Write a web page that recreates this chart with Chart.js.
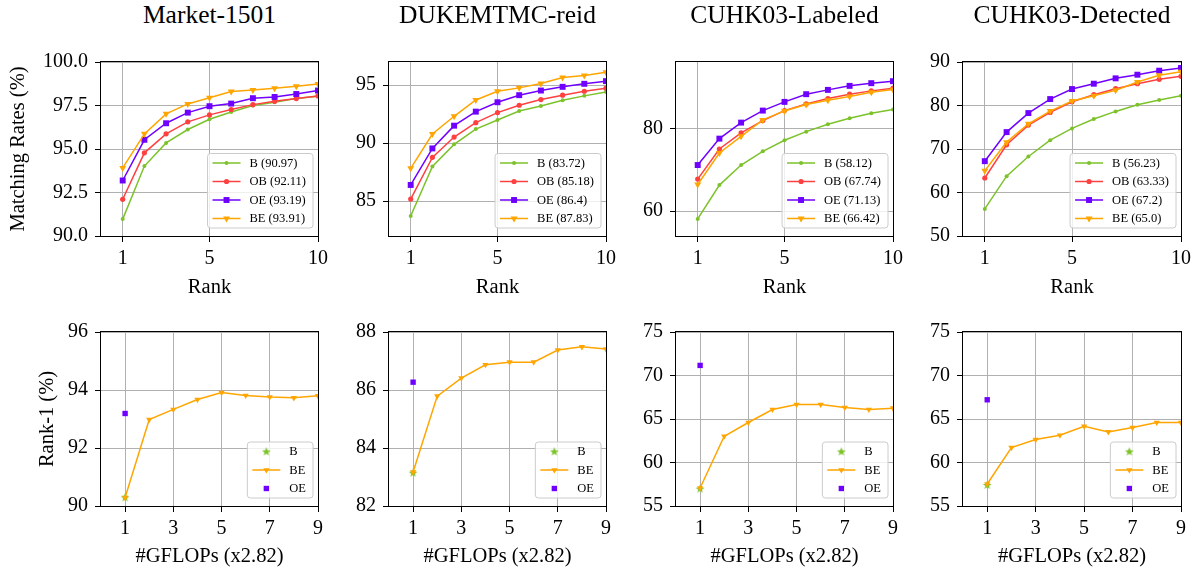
<!DOCTYPE html>
<html lang="en">
<head>
<meta charset="UTF-8">
<title>CMC and GFLOPs curves</title>
<script src="https://cdn.jsdelivr.net/npm/chart.js"></script>
<style>
  body { margin: 0; background: #fff; width: 1198px; height: 569px; overflow: hidden; position: relative; font-family: "Liberation Serif", serif; }
  canvas { position: absolute; }
  .title { position: absolute; top: 0; height: 29px; line-height: 29px; font-size: 25.5px; text-align: center; color: #000; white-space: nowrap; }
</style>
</head>
<body>
<script>
// ---- data ----
const ranks = [1, 2, 3, 4, 5, 6, 7, 8, 9, 10];
const gflops = [1, 2, 3, 4, 5, 6, 7, 8, 9];
const datasetTitles = ['Market-1501', 'DUKEMTMC-reid', 'CUHK03-Labeled', 'CUHK03-Detected'];

// CMC curves (rank 1..10)
const marketB  = [90.97, 94.02, 95.35, 96.12, 96.71, 97.13, 97.50, 97.69, 97.90, 98.03];
const marketOB = [92.11, 94.78, 95.87, 96.56, 96.96, 97.27, 97.55, 97.74, 97.90, 98.05];
const marketOE = [93.19, 95.53, 96.48, 97.09, 97.46, 97.61, 97.92, 97.99, 98.16, 98.36];
const marketBE = [93.91, 95.87, 97.02, 97.59, 97.95, 98.30, 98.39, 98.49, 98.60, 98.74];

const dukeB  = [83.72, 88.00, 89.90, 91.22, 92.00, 92.78, 93.21, 93.70, 94.08, 94.42];
const dukeOB = [85.18, 88.78, 90.53, 91.77, 92.64, 93.27, 93.76, 94.14, 94.48, 94.74];
const dukeOE = [86.40, 89.55, 91.51, 92.72, 93.53, 94.14, 94.54, 94.86, 95.12, 95.35];
const dukeBE = [87.83, 90.79, 92.32, 93.73, 94.48, 94.77, 95.14, 95.66, 95.84, 96.12];

const cuhkLB  = [58.12, 66.29, 71.13, 74.44, 77.10, 79.19, 80.97, 82.42, 83.63, 84.52];
const cuhkLOB = [67.74, 75.00, 78.87, 81.85, 84.27, 85.89, 87.18, 88.23, 89.03, 89.68];
const cuhkLOE = [71.13, 77.50, 81.37, 84.27, 86.37, 88.23, 89.27, 90.24, 90.89, 91.37];
const cuhkLBE = [66.42, 74.03, 78.06, 82.02, 84.19, 85.73, 86.77, 87.66, 88.71, 89.35];

const cuhkDB  = [56.23, 63.75, 68.28, 72.04, 74.73, 76.88, 78.64, 80.18, 81.25, 82.25];
const cuhkDOB = [63.33, 70.97, 75.50, 78.41, 80.87, 82.48, 83.86, 85.01, 86.01, 86.70];
const cuhkDOE = [67.20, 73.88, 78.26, 81.48, 83.78, 85.01, 86.24, 87.08, 88.00, 88.62];
const cuhkDBE = [65.00, 71.58, 75.80, 78.72, 81.02, 82.25, 83.48, 85.40, 86.93, 87.77];

const cmcLegend = [
  ['B (90.97)', 'OB (92.11)', 'OE (93.19)', 'BE (93.91)'],
  ['B (83.72)', 'OB (85.18)', 'OE (86.4)', 'BE (87.83)'],
  ['B (58.12)', 'OB (67.74)', 'OE (71.13)', 'BE (66.42)'],
  ['B (56.23)', 'OB (63.33)', 'OE (67.2)', 'BE (65.0)']
];

// Rank-1 vs #GFLOPs
const marketFlopsBE = [90.29, 92.98, 93.33, 93.67, 93.91, 93.81, 93.76, 93.73, 93.80];
const dukeFlopsBE   = [83.17, 85.79, 86.41, 86.87, 86.96, 86.96, 87.38, 87.49, 87.41];
const cuhkLFlopsBE  = [57.07, 63.02, 64.60, 66.09, 66.67, 66.67, 66.32, 66.09, 66.25];
const cuhkDFlopsBE  = [57.53, 61.72, 62.64, 63.14, 64.17, 63.52, 64.02, 64.60, 64.60];
const flopsB  = [90.30, 83.15, 57.00, 57.42];
const flopsOE = [93.19, 86.27, 71.16, 67.21];

// axes
const cmcYRange   = [[90, 100], [82, 97], [54, 96], [50, 90]];
const cmcYTicks   = [[90, 92.5, 95, 97.5, 100], [85, 90, 95], [60, 80], [50, 60, 70, 80, 90]];
const flopsYRange = [[90, 96], [82, 88], [55, 75], [55, 75]];
const flopsYTicks = [[90, 92, 94, 96], [82, 84, 86, 88], [55, 60, 65, 70, 75], [55, 60, 65, 70, 75]];
const rankTicks  = [1, 5, 10];
const gflopsTicks = [1, 3, 5, 7, 9];

const colors = { B: '#7cc22a', OB: '#ff4040', OE: '#6f00ff', BE: '#ffa500' };
const plotLeft  = [101, 389, 676, 963];
const plotRight = [318, 606, 893, 1181];
const FONT = 'Liberation Serif';

// filled five point star used for the single B point
const star = document.createElement('canvas');
star.width = 10; star.height = 10;
(function () {
  const c = star.getContext('2d');
  c.fillStyle = colors.B;
  c.beginPath();
  for (let k = 0; k < 10; k++) {
    const r = k % 2 ? 2 : 4.6;
    const a = -Math.PI / 2 + k * Math.PI / 5;
    c.lineTo(5 + r * Math.cos(a), 5.3 + r * Math.sin(a));
  }
  c.closePath();
  c.fill();
})();

function pts(xs, ys) { return ys.map((y, i) => ({ x: xs[i], y: y })); }

function series(label, color, style, radius, data, rotation, showLine) {
  return {
    label: label, data: data,
    borderColor: color, backgroundColor: color, borderWidth: 1.5,
    pointStyle: style, pointRadius: radius, pointHoverRadius: radius,
    pointRotation: rotation || 0, pointBackgroundColor: color, pointBorderWidth: 0,
    showLine: showLine !== false, tension: 0
  };
}

// black box round the plot area
const frame = {
  id: 'frame',
  afterDatasetsDraw(chart) {
    const a = chart.chartArea, ctx = chart.ctx;
    ctx.save();
    ctx.strokeStyle = '#000';
    ctx.lineWidth = 1;
    ctx.strokeRect(Math.round(a.left) - 0.5, Math.round(a.top) - 0.5,
                   Math.round(a.right - a.left) + 1, Math.round(a.bottom - a.top) + 1);
    ctx.restore();
  }
};

// legend inside the lower right corner
const insetLegend = {
  id: 'insetLegend',
  afterDraw(chart) {
    const a = chart.chartArea, ctx = chart.ctx;
    const items = chart.data.datasets;
    const rowH = 18.5;
    ctx.save();
    ctx.font = '12.5px "' + FONT + '"';
    const tw = Math.max(...items.map(d => ctx.measureText(d.label).width));
    const w = 42 + tw + 7;
    const h = 19 + (items.length - 1) * rowH;
    const x = a.right - 5 - w, y = a.bottom - 8 - h;
    ctx.beginPath();
    ctx.roundRect(x, y, w, h, 3);
    ctx.fillStyle = 'rgba(255,255,255,0.8)';
    ctx.fill();
    ctx.strokeStyle = '#cccccc';
    ctx.lineWidth = 1;
    ctx.stroke();
    items.forEach((d, k) => {
      const cy = y + 9.5 + k * rowH;
      if (d.showLine) {
        ctx.beginPath();
        ctx.moveTo(x + 5, cy);
        ctx.lineTo(x + 33, cy);
        ctx.strokeStyle = d.borderColor;
        ctx.lineWidth = d.borderWidth;
        ctx.stroke();
      }
      ctx.fillStyle = d.pointBackgroundColor;
      Chart.helpers.drawPoint(ctx, { pointStyle: d.pointStyle, radius: d.pointRadius, rotation: d.pointRotation, borderWidth: 0 }, x + 19, cy);
      ctx.fillStyle = '#000';
      ctx.textBaseline = 'middle';
      ctx.textAlign = 'left';
      ctx.fillText(d.label, x + 42, cy + 0.5);
    });
    ctx.restore();
  }
};

function makeChart(cfg) {
  const cv = document.createElement('canvas');
  const left = cfg.col === 0 ? 0 : plotLeft[cfg.col] - 70;
  const width = plotRight[cfg.col] + 17 - left;
  cv.width = width; cv.height = cfg.height;
  cv.style.left = left + 'px';
  cv.style.top = cfg.top + 'px';
  document.body.appendChild(cv);
  const tickFont = { family: FONT, size: 20 };
  const grid = { color: '#b0b0b0', lineWidth: 1, drawTicks: true, tickLength: 6, tickColor: '#000', tickWidth: 1 };
  new Chart(cv, {
    type: 'line',
    data: { datasets: cfg.datasets.map((d, i, arr) => Object.assign(d, { order: arr.length - i })) },
    options: {
      responsive: false, animation: false, events: [],
      layout: { padding: { left: 0, right: 17, top: cfg.padTop, bottom: 0 } },
      plugins: { legend: { display: false }, tooltip: { enabled: false } },
      scales: {
        x: {
          type: 'linear', min: 0, max: cfg.xMax,
          afterBuildTicks: s => { s.ticks = cfg.xTicks.map(v => ({ value: v })); },
          afterFit: s => { s.height = cfg.xH; s.paddingLeft = 0; s.paddingRight = 0; },
          grid: grid, border: { display: false },
          ticks: { color: '#000', font: tickFont, padding: 5, maxRotation: 0, autoSkip: false },
          title: { display: true, text: cfg.xTitle, color: '#000', font: { family: FONT, size: 20.5 }, padding: { top: 0, bottom: 0 } }
        },
        y: {
          type: 'linear', min: cfg.yRange[0], max: cfg.yRange[1],
          afterBuildTicks: s => { s.ticks = cfg.yTicks.map(v => ({ value: v })); },
          afterFit: s => { s.width = plotLeft[cfg.col] - left; s.paddingTop = 0; s.paddingBottom = 0; },
          grid: grid, border: { display: false },
          ticks: { color: '#000', font: tickFont, padding: 7, autoSkip: false, callback: cfg.yFmt || (v => String(v)) },
          title: { display: !!cfg.yTitle, text: cfg.yTitle || '', color: '#000', font: { family: FONT, size: 20.5 }, padding: { top: cfg.yTitlePad || 0 } }
        }
      }
    },
    plugins: [frame, insetLegend]
  });
}

const cmcData = [
  [marketB, marketOB, marketOE, marketBE],
  [dukeB, dukeOB, dukeOE, dukeBE],
  [cuhkLB, cuhkLOB, cuhkLOE, cuhkLBE],
  [cuhkDB, cuhkDOB, cuhkDOE, cuhkDBE]
];
const flopsBE = [marketFlopsBE, dukeFlopsBE, cuhkLFlopsBE, cuhkDFlopsBE];

for (let c = 0; c < 4; c++) {
  const t = document.createElement('div');
  t.className = 'title';
  t.textContent = datasetTitles[c];
  t.style.left = (plotLeft[c] - 60) + 'px';
  t.style.width = (plotRight[c] - plotLeft[c] + 120) + 'px';
  document.body.appendChild(t);

  const [b, ob, oe, be] = cmcData[c];
  const lab = cmcLegend[c];
  makeChart({
    col: c, top: 0, height: 300, padTop: 62, xH: 64,
    xMax: 10, xTicks: rankTicks, xTitle: 'Rank',
    yRange: cmcYRange[c], yTicks: cmcYTicks[c],
    yFmt: c === 0 ? (v => v.toFixed(1)) : null,
    yTitle: c === 0 ? 'Matching Rates (%)' : null, yTitlePad: 6,
    datasets: [
      series(lab[0], colors.B, 'circle', 2, pts(ranks, b)),
      series(lab[1], colors.OB, 'circle', 2.6, pts(ranks, ob)),
      series(lab[2], colors.OE, 'rect', 4.2, pts(ranks, oe)),
      series(lab[3], colors.BE, 'triangle', 4, pts(ranks, be), 180)
    ]
  });

  makeChart({
    col: c, top: 300, height: 269, padTop: 32, xH: 63,
    xMax: 9, xTicks: gflopsTicks, xTitle: '#GFLOPs (x2.82)',
    yRange: flopsYRange[c], yTicks: flopsYTicks[c],
    yTitle: c === 0 ? 'Rank-1 (%)' : null, yTitlePad: 35,
    datasets: [
      series('B', colors.B, star, 5, [{ x: gflops[0], y: flopsB[c] }], 0, false),
      series('BE', colors.BE, 'triangle', 3.6, pts(gflops, flopsBE[c]), 180),
      series('OE', colors.OE, 'rect', 3.8, [{ x: gflops[0], y: flopsOE[c] }], 0, false)
    ]
  });
}
</script>
</body>
</html>
